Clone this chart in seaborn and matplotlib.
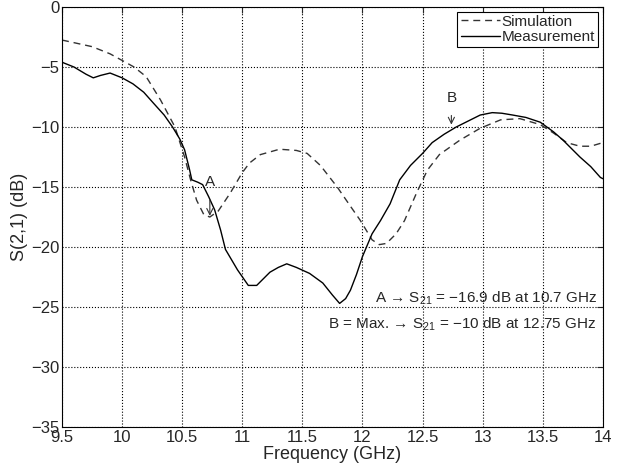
import matplotlib
matplotlib.use("Agg")
import matplotlib.pyplot as plt
import seaborn as sns
import pandas as pd

# simulated S21 (dashed)
freq_sim = [9.5, 9.75, 9.9, 10.1, 10.2, 10.32, 10.44, 10.52, 10.57, 10.62, 10.68, 10.73,
            10.8, 10.9, 11.0, 11.06, 11.15, 11.31, 11.45, 11.54, 11.65, 11.79, 11.9, 11.98,
            12.08, 12.14, 12.2, 12.28, 12.35, 12.45, 12.54, 12.64, 12.81, 12.98, 13.15,
            13.31, 13.48, 13.59, 13.7, 13.81, 13.9, 14.0]
s21_sim = [-2.75, -3.3, -3.9, -5.0, -5.8, -7.75, -10.0, -12.5, -14.4, -16.1, -17.3, -17.5,
           -17.0, -15.5, -13.8, -13.0, -12.3, -11.85, -11.95, -12.2, -13.2, -15.0, -16.6, -17.75,
           -19.4, -19.8, -19.7, -18.9, -17.8, -15.5, -13.6, -12.3, -11.1, -10.1, -9.4,
           -9.3, -9.8, -10.5, -11.3, -11.6, -11.6, -11.3]

# measured S21 (solid)
freq_meas = [9.5, 9.6, 9.7, 9.76, 9.82, 9.9, 10.0, 10.09, 10.18, 10.26, 10.35, 10.42, 10.48,
             10.52, 10.56, 10.58, 10.63, 10.67, 10.72, 10.77, 10.82, 10.86, 10.96, 11.05,
             11.12, 11.18, 11.23, 11.3, 11.37, 11.45, 11.56, 11.67, 11.75, 11.81, 11.86,
             11.9, 11.95, 12.0, 12.08, 12.15, 12.23, 12.31, 12.4, 12.5, 12.58, 12.68, 12.78,
             12.88, 12.98, 13.08, 13.16, 13.25, 13.36, 13.48, 13.59, 13.67, 13.75, 13.81,
             13.9, 13.98, 14.0]
s21_meas = [-4.6, -5.0, -5.6, -5.9, -5.7, -5.5, -5.9, -6.4, -7.1, -8.0, -9.0, -10.0, -11.0,
            -11.9, -13.5, -14.4, -14.6, -14.8, -15.8, -16.9, -18.6, -20.2, -21.9, -23.2,
            -23.2, -22.6, -22.1, -21.7, -21.4, -21.7, -22.2, -23.0, -24.0, -24.7, -24.3,
            -23.6, -22.3, -20.8, -18.9, -17.8, -16.4, -14.4, -13.2, -12.2, -11.3, -10.6, -10.0,
            -9.5, -9.0, -8.8, -8.85, -9.0, -9.2, -9.6, -10.4, -11.1, -11.9, -12.5,
            -13.3, -14.2, -14.3]

x_ticks = [9.5, 10, 10.5, 11, 11.5, 12, 12.5, 13, 13.5, 14]
y_ticks = [0, -5, -10, -15, -20, -25, -30, -35]

sns.set_style("white")
plt.rcParams['font.family'] = ['Liberation Sans', 'DejaVu Sans']
plt.rcParams['mathtext.fontset'] = 'custom'
plt.rcParams['mathtext.rm'] = 'Liberation Sans'
plt.rcParams['mathtext.it'] = 'Liberation Sans'

df_sim = pd.DataFrame({'f': freq_sim, 's': s21_sim})
df_meas = pd.DataFrame({'f': freq_meas, 's': s21_meas})

fig = plt.figure(figsize=(6.24, 4.70), dpi=100)
ax = fig.add_axes([0.0994, 0.0915, 0.8666, 0.8935])

sns.lineplot(data=df_sim, x='f', y='s', ax=ax, color='#333333', linestyle=(0, (5, 3.5)),
             linewidth=1.0, label='Simulation', sort=False)
sns.lineplot(data=df_meas, x='f', y='s', ax=ax, color='black', linewidth=1.0,
             label='Measurement', sort=False)

ax.set_xlim(9.5, 14)
ax.set_ylim(-35, 0)
ax.set_xticks(x_ticks)
ax.set_xticklabels(['9.5', '10', '10.5', '11', '11.5', '12', '12.5', '13', '13.5', '14'])
ax.set_yticks(y_ticks)
ax.grid(True, color='black', linestyle=':', linewidth=0.8)
ax.tick_params(direction='in', top=True, right=True, labelsize=12, length=4, pad=2)
for sp in ax.spines.values():
    sp.set_color('black')
    sp.set_linewidth(0.8)

ax.set_xlabel('Frequency (GHz)', fontsize=13, labelpad=1)
ax.set_ylabel('S(2,1) (dB)', fontsize=13, labelpad=2)

# markers A and B
ax.annotate('A', xy=(10.73, -17.4), xytext=(10.73, -14.6), ha='center', va='center',
            fontsize=11, arrowprops=dict(arrowstyle='->', color='#333333', lw=0.8,
                                         shrinkA=5, shrinkB=0))
ax.annotate('B', xy=(12.74, -9.8), xytext=(12.74, -7.6), ha='center', va='center',
            fontsize=11, arrowprops=dict(arrowstyle='->', color='#333333', lw=0.8,
                                         shrinkA=5, shrinkB=0))

ax.text(13.95, -24.3, 'A \u2192 S$_{21}$ = \u221216.9 dB at 10.7 GHz', ha='right',
        va='center', fontsize=11)
ax.text(13.95, -26.4, 'B = Max. \u2192 S$_{21}$ = \u221210 dB at 12.75 GHz', ha='right',
        va='center', fontsize=11)

leg = ax.legend(loc='upper right', fontsize=11, frameon=True, fancybox=False,
                edgecolor='black', framealpha=1, handlelength=2.6, handletextpad=0.1,
                borderpad=0.2, labelspacing=0.1, borderaxespad=0.3)
leg.get_frame().set_linewidth(0.8)

fig.savefig('out.png', dpi=100)
